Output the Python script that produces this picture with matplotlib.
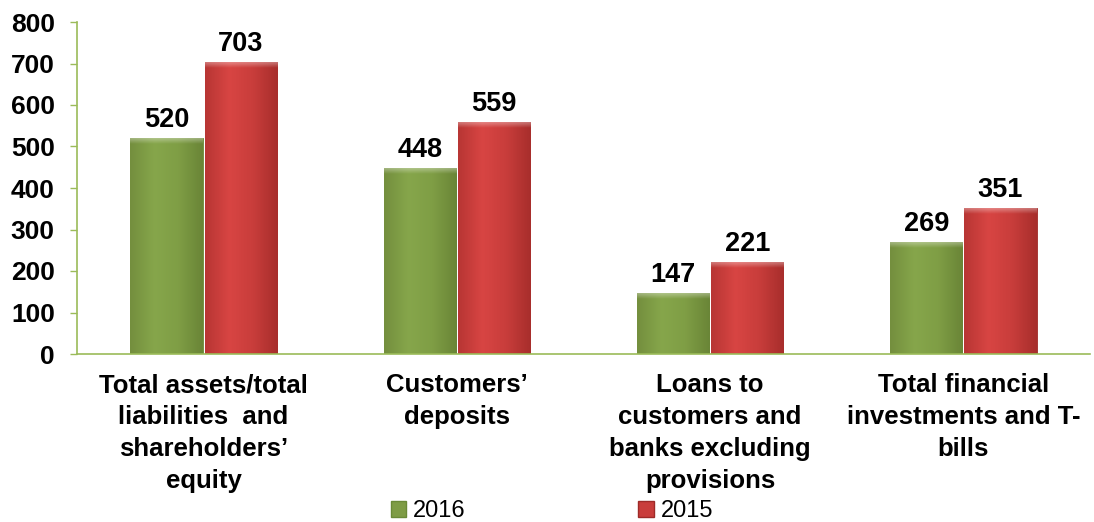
import matplotlib
matplotlib.use("Agg")
import matplotlib.pyplot as plt
import numpy as np
from matplotlib.colors import LinearSegmentedColormap

categories = ["Total assets/total\nliabilities  and\nshareholders’\nequity",
              "Customers’\ndeposits",
              "Loans to\ncustomers and\nbanks excluding\nprovisions",
              "Total financial\ninvestments and T-\nbills"]
years = ["2016", "2015"]
values_2016 = [520, 448, 147, 269]
values_2015 = [703, 559, 221, 351]
yticks = [0, 100, 200, 300, 400, 500, 600, 700, 800]

plt.rcParams['font.family'] = ['Liberation Sans', 'DejaVu Sans']

fig = plt.figure(figsize=(10.94, 5.22), dpi=100)
ax = fig.add_axes([77/1094, 1 - 354/522, (1090-77)/1094, (354-22)/522])

x = np.arange(len(categories))
w = 0.285
gap = 0.004
green_base = "#7E9C45"
red_base = "#C93D3B"
b1 = ax.bar(x - w/2 - gap, values_2016, w, color=green_base, edgecolor="#6A8A37", linewidth=0.6, label=years[0], zorder=2)
b2 = ax.bar(x + w/2 + gap, values_2015, w, color=red_base, edgecolor="#9E2A28", linewidth=0.6, label=years[1], zorder=2)

gcm = LinearSegmentedColormap.from_list("g", ["#748F3E", "#86A64B", "#7F9E45", "#6A8537"])
rcm = LinearSegmentedColormap.from_list("r", ["#B83634", "#D84543", "#C83D3B", "#A82E2C"])
grad = np.linspace(0, 1, 64).reshape(1, -1)
vgrad = np.linspace(0, 1, 32).reshape(-1, 1)
wcm = LinearSegmentedColormap.from_list("w", [(1, 1, 1, 0.0), (1, 1, 1, 0.35)])
for bars, cm in ((b1, gcm), (b2, rcm)):
    for bar in bars:
        bx, by = bar.get_x(), bar.get_y()
        bw, bh = bar.get_width(), bar.get_height()
        im = ax.imshow(grad, cmap=cm, aspect='auto', extent=(bx, bx + bw, by, by + bh), zorder=2.5)
        im.set_clip_path(bar)
        im2 = ax.imshow(vgrad, cmap=wcm, aspect='auto', origin='lower',
                        extent=(bx, bx + bw, by + bh - 14, by + bh), zorder=2.6)
        im2.set_clip_path(bar)

for bars, vals in ((b1, values_2016), (b2, values_2015)):
    for bar, v in zip(bars, vals):
        ax.text(bar.get_x() + bar.get_width()/2, v + 12, str(v), ha='center', va='bottom',
                fontsize=19.5, fontweight='bold', color='black')

ax.set_xlim(-0.5, len(categories) - 0.5)
ax.set_ylim(0, 800)
ax.set_yticks(yticks)
ax.set_yticklabels([str(t) for t in yticks], fontsize=19, fontweight='bold')
ax.set_xticks(x)
ax.set_xticklabels(categories, fontsize=18.5, fontweight='bold', linespacing=1.42, va='top')
ax.tick_params(axis='x', length=0, pad=14)
ax.tick_params(axis='y', length=5, width=1, color="#9BBB59", pad=11)
for s in ('top', 'right'):
    ax.spines[s].set_visible(False)
for s in ('left', 'bottom'):
    ax.spines[s].set_color("#9BBB59")
    ax.spines[s].set_linewidth(1.2)

handles = [plt.Rectangle((0, 0), 1, 1, facecolor=green_base, edgecolor="#6A8A37"),
           plt.Rectangle((0, 0), 1, 1, facecolor=red_base, edgecolor="#9E2A28")]
leg = fig.legend(handles, years, loc='center', bbox_to_anchor=(552/1094, 1 - 511/522), ncol=2,
                 frameon=False, fontsize=17, handlelength=0.65, handleheight=0.65,
                 handletextpad=0.3, columnspacing=7.3)

fig.savefig("out.png", dpi=100)
